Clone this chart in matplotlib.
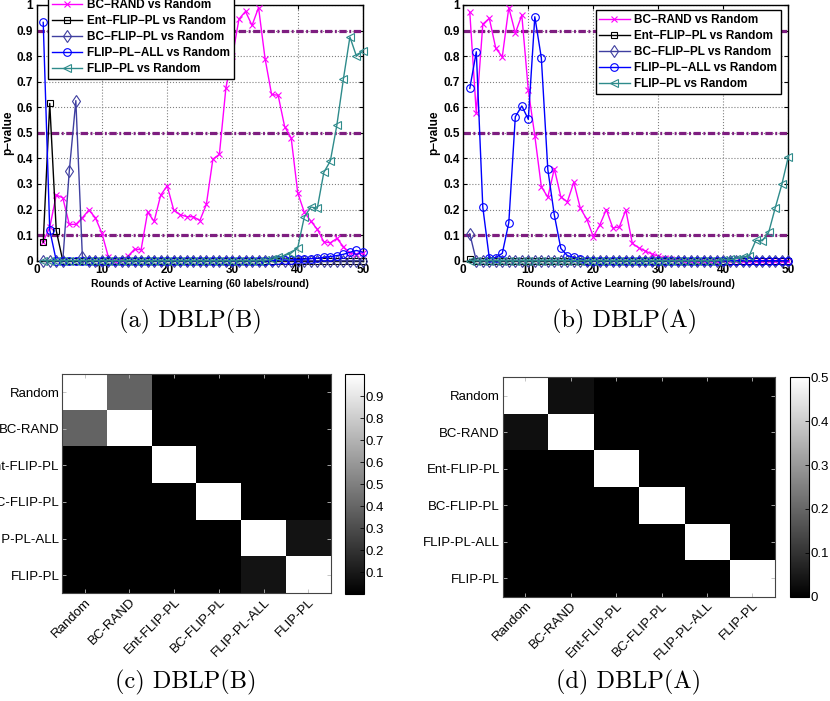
import matplotlib

matplotlib.use("Agg")

import matplotlib.pyplot as plt
import numpy as np

plt.rcParams["font.family"] = ["Liberation Sans", "DejaVu Sans"]

rounds = np.arange(1, 51)

# DBLP(B), 60 labels/round
b_bc_rand = [0.075, 0.13, 0.257, 0.246, 0.142, 0.142, 0.168, 0.198, 0.168, 0.107,
             0.013, 0.0, 0.003, 0.018, 0.045, 0.043, 0.19, 0.154, 0.256, 0.293,
             0.198, 0.18, 0.172, 0.172, 0.157, 0.22, 0.397, 0.416, 0.677, 0.80,
             0.945, 0.975, 0.92, 0.99, 0.79, 0.65, 0.647, 0.524, 0.48, 0.266,
             0.19, 0.155, 0.123, 0.074, 0.07, 0.087, 0.055, 0.03, 0.025, 0.03]
b_ent_flip = [0.072, 0.615, 0.117, 0, 0, 0, 0, 0, 0, 0,
              0, 0, 0, 0, 0, 0, 0, 0, 0, 0,
              0, 0, 0, 0, 0, 0, 0, 0, 0, 0,
              0, 0, 0, 0, 0, 0, 0, 0, 0, 0,
              0, 0, 0, 0, 0, 0, 0, 0, 0, 0]
b_bc_flip = [0, 0, 0, 0, 0.352, 0.626, 0.016, 0, 0, 0,
             0, 0, 0, 0, 0, 0, 0, 0, 0, 0,
             0, 0, 0, 0, 0, 0, 0, 0, 0, 0,
             0, 0, 0, 0, 0, 0, 0, 0, 0, 0,
             0, 0, 0, 0, 0, 0, 0, 0, 0, 0]
b_flip_all = [0.932, 0.12, 0, 0, 0, 0, 0, 0, 0, 0,
              0, 0, 0, 0, 0, 0, 0, 0, 0, 0,
              0, 0, 0, 0, 0, 0, 0, 0, 0, 0,
              0, 0, 0, 0, 0, 0, 0.002, 0.003, 0.003, 0.005,
              0.006, 0.008, 0.01, 0.013, 0.016, 0.02, 0.025, 0.033, 0.04, 0.033]
b_flip = [0, 0, 0, 0, 0, 0, 0, 0, 0, 0,
          0, 0, 0, 0, 0, 0, 0, 0, 0, 0,
          0, 0, 0, 0, 0, 0, 0, 0, 0, 0,
          0, 0, 0, 0, 0.002, 0.005, 0.013, 0.02, 0.03, 0.05,
          0.17, 0.21, 0.205, 0.345, 0.39, 0.53, 0.71, 0.875, 0.80, 0.82]

# DBLP(A), 90 labels/round
a_bc_rand = [0.971, 0.576, 0.925, 0.948, 0.83, 0.798, 0.99, 0.89, 0.96, 0.667,
             0.488, 0.29, 0.248, 0.36, 0.25, 0.23, 0.307, 0.205, 0.162, 0.094,
             0.14, 0.2, 0.128, 0.132, 0.198, 0.068, 0.05, 0.038, 0.026, 0.018,
             0.01, 0.006, 0.003, 0, 0, 0, 0, 0, 0, 0,
             0, 0, 0, 0, 0, 0, 0, 0, 0, 0]
a_ent_flip = [0.005, 0, 0, 0, 0, 0, 0, 0, 0, 0,
              0, 0, 0, 0, 0, 0, 0, 0, 0, 0,
              0, 0, 0, 0, 0, 0, 0, 0, 0, 0,
              0, 0, 0, 0, 0, 0, 0, 0, 0, 0,
              0, 0, 0, 0, 0, 0, 0, 0, 0, 0]
a_bc_flip = [0.105, 0, 0, 0, 0, 0, 0, 0, 0, 0,
             0, 0, 0, 0, 0, 0, 0, 0, 0, 0,
             0, 0, 0, 0, 0, 0, 0, 0, 0, 0,
             0, 0, 0, 0, 0, 0, 0, 0, 0, 0,
             0, 0, 0, 0, 0, 0, 0, 0, 0, 0]
a_flip_all = [0.674, 0.817, 0.209, 0.01, 0.012, 0.029, 0.149, 0.563, 0.605, 0.553,
              0.954, 0.794, 0.357, 0.179, 0.048, 0.02, 0.013, 0.005, 0, 0,
              0, 0, 0, 0, 0, 0, 0, 0, 0, 0,
              0, 0, 0, 0, 0, 0, 0, 0, 0, 0,
              0, 0, 0, 0, 0, 0, 0, 0, 0, 0]
a_flip = [0, 0, 0, 0, 0, 0, 0, 0, 0, 0,
          0, 0, 0, 0, 0, 0, 0, 0, 0, 0,
          0, 0, 0, 0, 0, 0, 0, 0, 0, 0,
          0, 0, 0, 0, 0, 0, 0, 0, 0, 0.003,
          0.005, 0.008, 0.013, 0.02, 0.08, 0.078, 0.113, 0.208, 0.298, 0.407]

legend_labels = ["BC\u2212RAND vs Random", "Ent\u2212FLIP\u2212PL vs Random",
                 "BC\u2212FLIP\u2212PL vs Random", "FLIP\u2212PL\u2212ALL vs Random",
                 "FLIP\u2212PL vs Random"]
thresholds = [0.1, 0.5, 0.9]

methods = ["Random", "BC-RAND", "Ent-FLIP-PL", "BC-FLIP-PL", "FLIP-PL-ALL", "FLIP-PL"]
# pairwise p-values between methods
pmat_b = [[1.0, 0.39, 0.0, 0.0, 0.0, 0.0],
          [0.39, 1.0, 0.0, 0.0, 0.0, 0.0],
          [0.0, 0.0, 1.0, 0.0, 0.0, 0.0],
          [0.0, 0.0, 0.0, 1.0, 0.0, 0.0],
          [0.0, 0.0, 0.0, 0.0, 1.0, 0.075],
          [0.0, 0.0, 0.0, 0.0, 0.075, 1.0]]
pmat_a = [[1.0, 0.03, 0.0, 0.0, 0.0, 0.0],
          [0.03, 1.0, 0.0, 0.0, 0.0, 0.0],
          [0.0, 0.0, 1.0, 0.0, 0.0, 0.0],
          [0.0, 0.0, 0.0, 1.0, 0.0, 0.0],
          [0.0, 0.0, 0.0, 0.0, 1.0, 0.0],
          [0.0, 0.0, 0.0, 0.0, 0.0, 1.0]]

STYLES = [
    dict(color="#FF00FF", marker="x", ms=5),
    dict(color="#000000", marker="s", ms=5),
    dict(color="#3F3FA0", marker="d", ms=6.5),
    dict(color="#0000FF", marker="o", ms=5.5),
    dict(color="#2E8B8B", marker="<", ms=6),
]


def plot_pvalues(ax, series, xlabel, legend_kw):
    for y in thresholds:
        ax.axhline(y, color="#7E1E80", lw=2.3, linestyle=(0, (2.3, 0.8, 0.6, 0.8)), zorder=1.5)
    for values, label, st in zip(series, legend_labels, STYLES):
        ax.plot(rounds, values, color=st["color"], marker=st["marker"], ms=st["ms"],
                mfc="none", mew=0.8, lw=1.0, label=label, clip_on=False, zorder=3)
    ax.set_xlim(0, 50)
    ax.set_ylim(0, 1)
    ax.set_xticks([0, 10, 20, 30, 40, 50])
    ax.set_xticklabels(["0", "10", "20", "30", "40", "50"], fontweight="bold")
    yt = [0, 0.1, 0.2, 0.3, 0.4, 0.5, 0.6, 0.7, 0.8, 0.9, 1]
    ax.set_yticks(yt)
    ax.set_yticklabels(["0", "0.1", "0.2", "0.3", "0.4", "0.5", "0.6", "0.7", "0.8", "0.9", "1"],
                       fontweight="bold")
    ax.tick_params(direction="in", top=True, right=True, length=3, width=0.8,
                   labelsize=8.5, pad=2.5)
    ax.grid(True, linestyle=":", color="#808080", linewidth=0.8)
    ax.set_axisbelow(True)
    ax.set_xlabel(xlabel, fontsize=7.5, fontweight="bold", labelpad=2)
    ax.set_ylabel("p\u2212value", fontsize=8.5, fontweight="bold", labelpad=2)
    for sp in ax.spines.values():
        sp.set_linewidth(1.0)
    leg = ax.legend(fontsize=8.5, prop={"weight": "bold", "size": 8.5}, fancybox=False,
                    framealpha=1, edgecolor="black", handlelength=2.6, handletextpad=0.4,
                    labelspacing=0.35, borderpad=0.3, borderaxespad=0, **legend_kw)
    leg.get_frame().set_linewidth(1.0)
    leg.set_zorder(5)


def plot_matrix(fig, rect, cbar_rect, mat, vmax, cticks, clabels):
    ax = fig.add_axes(rect)
    im = ax.imshow(np.asarray(mat), cmap="gray", vmin=0, vmax=vmax, aspect="auto",
                   interpolation="nearest")
    ax.set_xticks(range(len(methods)))
    ax.set_yticks(range(len(methods)))
    ax.set_xticklabels(methods, rotation=45, ha="right", rotation_mode="anchor")
    ax.set_yticklabels(methods)
    ax.tick_params(direction="in", top=True, right=True, length=3, width=0.6,
                   labelsize=9.5, pad=2, color="#BBBBBB")
    for sp in ax.spines.values():
        sp.set_linewidth(0.8)
        sp.set_color("#444444")
    cax = fig.add_axes(cbar_rect)
    cb = fig.colorbar(im, cax=cax, ticks=cticks)
    cb.ax.set_yticklabels(clabels)
    cb.ax.tick_params(direction="in", length=3, width=0.6, labelsize=9.5, pad=1)
    cb.outline.set_linewidth(0.8)
    return ax


fig = plt.figure(figsize=(8.3, 7.01), dpi=100)

ax_b = fig.add_axes([0.0442, 0.6281, 0.3931, 0.3648])
plot_pvalues(ax_b, [b_bc_rand, b_ent_flip, b_bc_flip, b_flip_all, b_flip],
             "Rounds of Active Learning (60 labels/round)",
             dict(loc="lower left", bbox_to_anchor=(0.035, 0.711)))

ax_a = fig.add_axes([0.5582, 0.6281, 0.3916, 0.3648])
plot_pvalues(ax_a, [a_bc_rand, a_ent_flip, a_bc_flip, a_flip_all, a_flip],
             "Rounds of Active Learning (90 labels/round)",
             dict(loc="upper right", bbox_to_anchor=(0.9775, 0.98)))

plot_matrix(fig, [0.0751, 0.1536, 0.3234, 0.3128], [0.4157, 0.1526, 0.0229, 0.3138],
            pmat_b, 1.0, [0.1, 0.2, 0.3, 0.4, 0.5, 0.6, 0.7, 0.8, 0.9],
            ["0.1", "0.2", "0.3", "0.4", "0.5", "0.6", "0.7", "0.8", "0.9"])
plot_matrix(fig, [0.6057, 0.1488, 0.3281, 0.3130], [0.9518, 0.1488, 0.0233, 0.3130],
            pmat_a, 0.5, [0, 0.1, 0.2, 0.3, 0.4, 0.5],
            ["0", "0.1", "0.2", "0.3", "0.4", "0.5"])

captions = ["(a) DBLP(B)", "(b) DBLP(A)", "(c) DBLP(B)", "(d) DBLP(A)"]
cap_pos = [(0.229, 0.541), (0.753, 0.541), (0.224, 0.026), (0.757, 0.026)]
for text, (x, y) in zip(captions, cap_pos):
    fig.text(x, y, text, fontfamily="cmr10", fontsize=17.5, ha="center", va="center")

fig.savefig("out.png", dpi=100)
plt.close(fig)
